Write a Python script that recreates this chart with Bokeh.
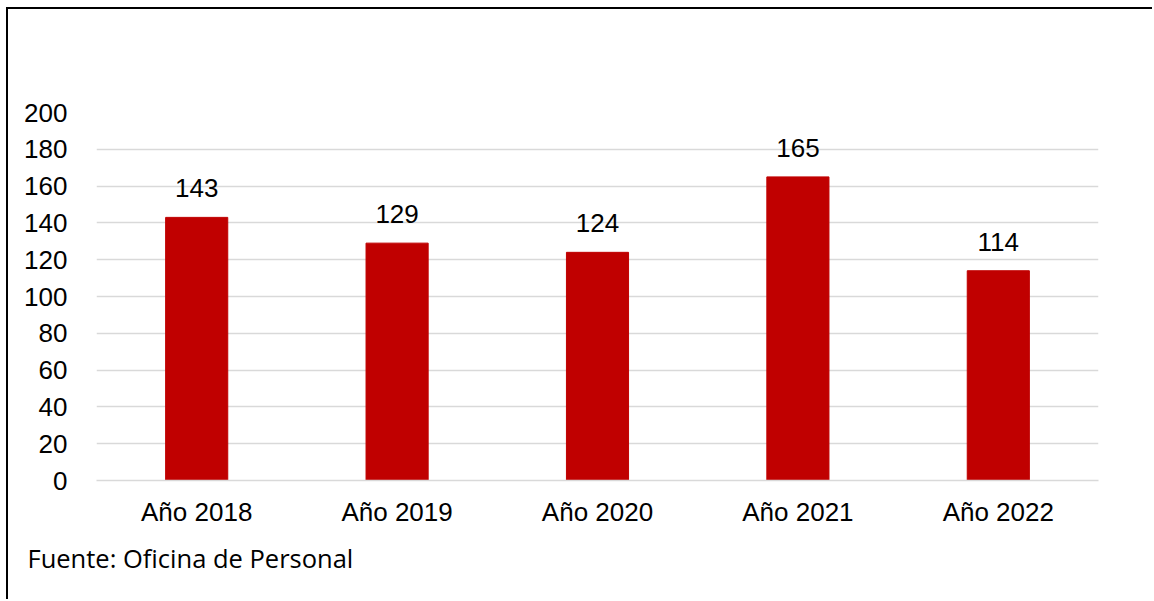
from bokeh.plotting import figure
from bokeh.models import ColumnDataSource, Title, Range1d, FixedTicker
from bokeh.embed import file_html
from bokeh.resources import INLINE
from bokeh.core.properties import value

categories = ["Año 2018", "Año 2019", "Año 2020", "Año 2021", "Año 2022"]
values = [143, 129, 124, 165, 114]
y_ticks = [0, 20, 40, 60, 80, 100, 120, 140, 160, 180, 200]
source_note = "Fuente: Oficina de Personal"

src = ColumnDataSource(dict(cat=categories, val=values, lab=[str(v) for v in values]))

p = figure(x_range=categories, width=1146, height=592, output_backend="svg",
           toolbar_location=None, min_border_left=88, min_border_right=56,
           min_border_top=103, min_border_bottom=121)
p.margin = (7, 0, 0, 6)
p.styles = {"border-top": "2px solid black", "border-left": "2px solid black"}
p.y_range = Range1d(0, 200)
p.x_range.range_padding = 0

p.vbar(x="cat", top="val", width=0.31, source=src, color="#C00000")
p.text(x="cat", y="val", text="lab", source=src, text_align="center",
       text_baseline="alphabetic", y_offset=-29, text_font=value("Liberation Sans"),
       text_font_size="26px", text_color="#000000")

p.outline_line_color = None
p.xgrid.grid_line_color = None
p.ygrid.grid_line_color = "#D9D9D9"
p.ygrid.grid_line_width = 1.5
p.yaxis.ticker = FixedTicker(ticks=y_ticks)
for ax in (p.xaxis, p.yaxis):
    ax.axis_line_color = None
    ax.major_tick_line_color = None
    ax.minor_tick_line_color = None
    ax.major_label_text_font = "Liberation Sans"
    ax.major_label_text_font_size = "26px"
    ax.major_label_text_color = "#000000"
p.xaxis.axis_line_color = "#D9D9D9"
p.xaxis.axis_line_width = 1.5
p.yaxis.major_label_standoff = 23
p.xaxis.major_label_standoff = 10

p.add_layout(Title(text=source_note, align="left", offset=-69, standoff=18,
                   text_font="Open Sans", text_font_size="25.5px", text_font_style="normal",
                   text_color="#000000"), "below")

open("out.html", "w").write(file_html(p, INLINE))
